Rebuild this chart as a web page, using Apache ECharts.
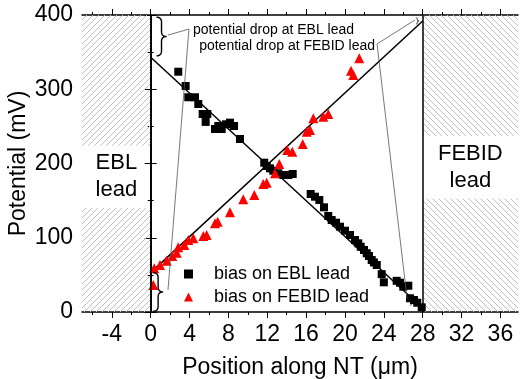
<!DOCTYPE html>
<html><head><meta charset="utf-8">
<script src="https://cdn.jsdelivr.net/npm/echarts@6/dist/echarts.min.js"></script>
<style>html,body{margin:0;padding:0;background:#fff}#c{width:520px;height:379px}</style>
</head><body><div id="c"></div>
<script>
// ---- data ----
const xTickValues = [-4, 0, 4, 8, 12, 16, 20, 24, 28, 32, 36];
const xMinorValues = [-6, -2, 2, 6, 10, 14, 18, 22, 26, 30, 34];
const xRange = [-7.07, 37.81];
const yRange = [0, 400];
const biasOnEBL = [
  [2.84,323.6],[3.60,304.4],[3.87,289.2],[4.56,289.2],[4.90,280.1],[5.35,266.7],[5.83,266.7],
  [5.66,256.0],[6.62,246.5],[6.96,250.5],[7.31,246.5],[7.75,252.8],[8.16,255.0],[8.58,250.5],
  [9.19,233.0],[11.69,201.1],[11.94,196.6],[12.28,193.5],[12.62,190.3],[13.14,186.8],[13.65,184.5],
  [14.17,184.5],[14.62,185.9],[16.47,158.9],[16.91,155.3],[17.36,150.8],[17.84,141.0],[18.28,129.3],
  [18.63,123.9],[19.08,120.3],[19.49,114.9],[20.00,109.5],[20.52,103.7],[21.03,97.0],[21.37,92.5],
  [21.62,87.9],[21.96,83.5],[22.24,79.1],[22.47,75.4],[22.75,70.0],[22.98,66.7],[23.27,63.3],
  [23.78,51.0],[24.00,40.0],[25.32,42.0],[25.66,39.5],[26.00,34.1],[26.52,35.4],[26.69,18.5],
  [27.10,16.2],[27.44,12.5],[27.90,6.3]
];
const biasOnFEBID = [
  [0.27,36.4],[0.37,58.8],[0.96,63.3],[1.65,69.1],[2.22,75.4],[2.68,79.9],[2.84,87.1],[3.46,90.2],
  [3.87,97.0],[4.39,99.3],[5.42,102.4],[5.76,103.7],[6.62,119.4],[6.90,121.6],[8.16,134.3],
  [9.53,151.8],[10.67,157.6],[11.59,172.4],[11.94,174.1],[12.80,186.8],[13.24,199.3],[14.06,218.2],
  [14.58,215.9],[15.65,226.3],[16.06,242.8],[16.40,245.1],[16.74,260.9],[17.77,263.0],[18.28,266.7],
  [20.62,325.0],[20.86,319.2],[21.47,341.7]
];
const fitEBL = [[0, 343], [28, 5]];
const fitFEBID = [[0, 53], [28, 392]];
const leadEBL = [-7.07, 0];
const leadFEBID = [28, 37.81];
const labelBoxEBL = [140, 224];
const labelBoxFEBID = [153, 237];
const seriesNames = ['bias on EBL lead', 'bias on FEBID lead'];
const leadLabels = ['EBL\nlead', 'FEBID\nlead'];
const noteTexts = ['potential drop at EBL lead', 'potential drop at FEBID lead'];

// ---- hatch patterns ----
function hatch(dir) {
  const s = 6, c = document.createElement('canvas');
  c.width = s; c.height = s;
  const g = c.getContext('2d');
  g.strokeStyle = '#bfbfbf'; g.lineWidth = 1;
  for (const o of [-s, 0, s]) {
    g.beginPath();
    if (dir > 0) { g.moveTo(o, s); g.lineTo(o + s, 0); }
    else { g.moveTo(o, 0); g.lineTo(o + s, s); }
    g.stroke();
  }
  return { image: c, repeat: 'repeat' };
}
const hatchL = hatch(1), hatchR = hatch(-1);

const FONT = 'Liberation Sans, Arial, sans-serif';
const chart = echarts.init(document.getElementById('c'), null, { renderer: 'canvas' });

function xAxisCfg(pos, values, len, main) {
  return {
    type: 'value', position: pos, min: xRange[0], max: xRange[1],
    axisLine: { show: main, lineStyle: { color: '#000', width: 1.5 } },
    axisTick: { show: true, customValues: values, length: len, inside: false, lineStyle: { color: '#000', width: 1 } },
    axisLabel: main && pos === 'bottom'
      ? { show: true, customValues: xTickValues, fontSize: 23, color: '#000', fontFamily: FONT, margin: 11 }
      : { show: false },
    splitLine: { show: false },
    name: main && pos === 'bottom' ? 'Position along NT (\u03bcm)' : '',
    nameLocation: 'middle', nameGap: 44, nameMoveOverlap: false,
    nameTextStyle: { fontSize: 23, color: '#000', fontFamily: FONT }
  };
}
function yAxisCfg(pos, main) {
  return {
    type: 'value', position: pos, min: yRange[0], max: yRange[1], interval: 100,
    axisLine: { show: true, lineStyle: { color: '#000', width: 1.5 } },
    axisTick: { show: true, length: 6, lineStyle: { color: '#000', width: 1 } },
    minorTick: { show: true, splitNumber: 2, length: 3, lineStyle: { color: '#000', width: 1 } },
    axisLabel: main ? { fontSize: 23, color: '#000', fontFamily: FONT, margin: 9 } : { show: false },
    splitLine: { show: false }, minorSplitLine: { show: false },
    name: main ? 'Potential (mV)' : '', nameLocation: 'middle', nameGap: 52, nameMoveOverlap: false,
    nameTextStyle: { fontSize: 23, color: '#000', fontFamily: FONT }
  };
}
function leadLabelArea(lead, box, text) {
  return [{ coord: [lead[0], box[0]], itemStyle: { color: 'rgba(0,0,0,0)' },
            label: { show: true, position: 'inside', formatter: text, fontSize: 22, lineHeight: 27, color: '#000', fontFamily: FONT } },
          { coord: [lead[1], box[1]] }];
}

chart.setOption({
  animation: false,
  backgroundColor: '#fff',
  grid: { left: 82, right: 2, top: 15, bottom: 67, containLabel: false, outerBoundsMode: 'none' },
  xAxis: [
    xAxisCfg('bottom', xTickValues, 6, true),
    xAxisCfg('bottom', xMinorValues, 3, false),
    xAxisCfg('top', xTickValues, 6, true),
    xAxisCfg('top', xMinorValues, 3, false)
  ],
  yAxis: [yAxisCfg('left', true), yAxisCfg('right', false)],
  legend: {
    orient: 'vertical', left: 179, top: 260, itemGap: 5,
    itemWidth: 9, itemHeight: 9,
    data: [{ name: seriesNames[0], icon: 'rect' }, { name: seriesNames[1], icon: 'triangle' }],
    textStyle: { fontSize: 18, color: '#000', fontFamily: FONT, lineHeight: 18, padding: [0, 0, 0, 16] }
  },
  series: [
    {
      type: 'line', name: 'fitEBL', data: fitEBL, showSymbol: false, symbol: 'none', z: 3,
      lineStyle: { color: '#000', width: 1.5 },
      markArea: {
        silent: true,
        data: [
          [{ coord: [leadEBL[0], yRange[0]], itemStyle: { color: hatchL } }, { coord: [leadEBL[1], labelBoxEBL[0]] }],
          [{ coord: [leadEBL[0], labelBoxEBL[1]], itemStyle: { color: hatchL } }, { coord: [leadEBL[1], yRange[1]] }],
          [{ coord: [leadFEBID[0], yRange[0]], itemStyle: { color: hatchR } }, { coord: [leadFEBID[1], labelBoxFEBID[0]] }],
          [{ coord: [leadFEBID[0], labelBoxFEBID[1]], itemStyle: { color: hatchR } }, { coord: [leadFEBID[1], yRange[1]] }],
          leadLabelArea(leadEBL, labelBoxEBL, leadLabels[0]),
          leadLabelArea(leadFEBID, labelBoxFEBID, leadLabels[1])
        ]
      },
      markLine: {
        silent: true, symbol: 'none', label: { show: false },
        lineStyle: { color: '#000', width: 1.5, type: 'solid' },
        data: [
          [{ coord: [leadEBL[1], yRange[0]] }, { coord: [leadEBL[1], yRange[1]] }],
          [{ coord: [leadFEBID[0], yRange[0]] }, { coord: [leadFEBID[0], yRange[1]] }]
        ]
      }
    },
    {
      type: 'line', name: 'fitFEBID', data: fitFEBID, showSymbol: false, symbol: 'none', z: 3,
      lineStyle: { color: '#000', width: 1.5 }
    },
    {
      type: 'scatter', name: seriesNames[0], data: biasOnEBL, symbol: 'rect', symbolSize: 8, z: 4,
      itemStyle: { color: '#000', opacity: 1 }
    },
    {
      type: 'scatter', name: seriesNames[1], data: biasOnFEBID, symbol: 'triangle', symbolSize: 10, z: 4,
      itemStyle: { color: '#ff0000', opacity: 1 }
    }
  ]
});

// ---- annotations (placed in data coordinates) ----
function P(x, y) { return chart.convertToPixel({ xAxisIndex: 0, yAxisIndex: 0 }, [x, y]); }
function quad(p0, c, p1, pts) {
  for (let i = 1; i <= 8; i++) {
    const t = i / 8, u = 1 - t;
    pts.push([u * u * p0[0] + 2 * u * t * c[0] + t * t * p1[0], u * u * p0[1] + 2 * u * t * c[1] + t * t * p1[1]]);
  }
}
function brace(x, yTop, yBot, w) {
  const a = P(x, yTop), b = P(x, yBot);
  const X = a[0], y0 = a[1], y1 = b[1], ym = (y0 + y1) / 2, q = Math.min(5, (y1 - y0) / 5), h = X + w / 2;
  const pts = [[X, y0]];
  quad([X, y0], [h, y0], [h, y0 + q], pts);
  pts.push([h, ym - q]);
  quad([h, ym - q], [h, ym], [X + w, ym], pts);
  quad([X + w, ym], [h, ym], [h, ym + q], pts);
  pts.push([h, y1 - q]);
  quad([h, y1 - q], [h, y1], [X, y1], pts);
  return pts;
}
const braceStyle = { stroke: '#000', lineWidth: 1.4, fill: null };
const smallBrace = { stroke: '#000', lineWidth: 0.8, fill: null };
const leaderStyle = { stroke: '#555', lineWidth: 0.8, fill: null };
const eblCorner = P(3.94, 381), febCorner = P(23.3, 361);
chart.setOption({
  graphic: [
    { type: 'polyline', shape: { points: brace(0.6, 397, 345, 10) }, style: braceStyle, z: 10 },
    { type: 'polyline', shape: { points: brace(0.25, 53, 1, 10) }, style: braceStyle, z: 10 },
    { type: 'polyline', shape: { points: brace(27.3, 396, 388, 3) }, style: smallBrace, z: 10 },
    { type: 'polyline', shape: { points: brace(26.7, 21, 9, 3) }, style: smallBrace, z: 10 },
    { type: 'polyline', shape: { points: [P(1.78, 373), eblCorner, P(1.78, 29.6)] }, style: leaderStyle, z: 10 },
    { type: 'polyline', shape: { points: [P(27.2, 393.3), febCorner, P(26.4, 17.5)] }, style: leaderStyle, z: 10 },
    { type: 'text', x: eblCorner[0] + 4, y: eblCorner[1] + 1,
      style: { text: noteTexts[0], fontSize: 14, fontFamily: FONT, fill: '#000', verticalAlign: 'middle', align: 'left' }, z: 10 },
    { type: 'text', x: febCorner[0] - 2, y: febCorner[1] + 2,
      style: { text: noteTexts[1], fontSize: 14, fontFamily: FONT, fill: '#000', verticalAlign: 'middle', align: 'right' }, z: 10 }
  ]
});
</script></body></html>
